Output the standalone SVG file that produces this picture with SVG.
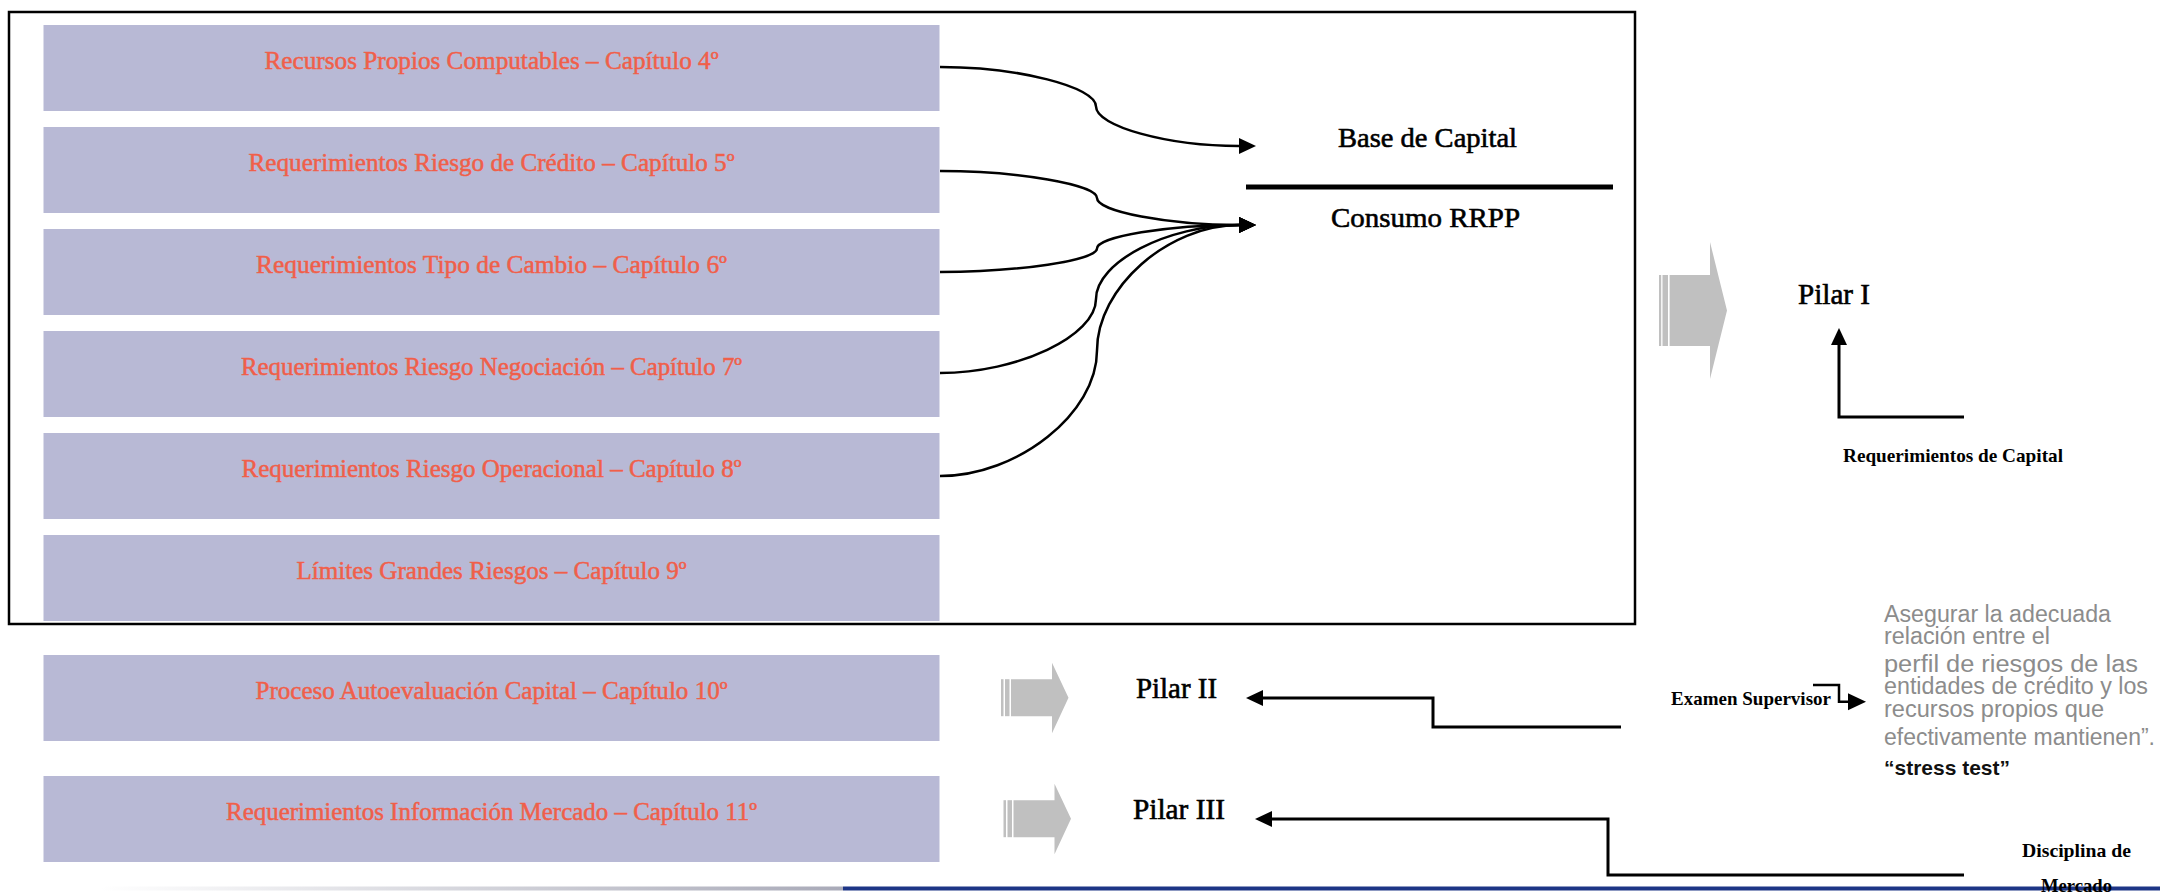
<svg xmlns="http://www.w3.org/2000/svg" width="2160" height="893" viewBox="0 0 2160 893">
<style>
.box{fill:#b8b9d5}
.bt{font-family:"Liberation Serif",serif;font-size:25px;fill:#f05f4a;stroke:#f05f4a;stroke-width:0.5;text-anchor:middle}
.lbl{font-family:"Liberation Serif",serif;fill:#000;stroke:#000;stroke-width:0.6}
.pil{font-family:"Liberation Serif",serif;font-size:29px;fill:#000;stroke:#000;stroke-width:0.6}
.bold{font-family:"Liberation Serif",serif;font-size:19px;font-weight:bold;fill:#000}
.gray{font-family:"Liberation Sans",Arial,sans-serif;font-size:23px;fill:#8c8c8c}
.conn{fill:none;stroke:#000;stroke-width:2.5}
.elb{fill:none;stroke:#000;stroke-width:3}
.blk{fill:#c0c0c0}
</style>
<defs>
<marker id="ah" markerUnits="userSpaceOnUse" markerWidth="18" markerHeight="18" refX="0" refY="8" orient="auto">
<path d="M0,0 L17,8 L0,16 z" fill="#000"/>
</marker>
<marker id="ahs" markerUnits="userSpaceOnUse" markerWidth="19" markerHeight="18" refX="0" refY="8.5" orient="auto">
<path d="M0,0 L18,8.5 L0,17 z" fill="#000"/>
</marker>
<linearGradient id="fade" x1="0" y1="0" x2="1" y2="0">
<stop offset="0" stop-color="#ffffff"/>
<stop offset="1" stop-color="#a9aab8"/>
</linearGradient>
<g id="grayArrowSmall">
<rect x="0" y="16.5" width="2.5" height="37" class="blk"/>
<rect x="4" y="16.5" width="4.5" height="37" class="blk"/>
<polygon points="10,16.5 51,16.5 51,0 67.5,35 51,70.5 51,53.5 10,53.5" class="blk"/>
</g>
</defs>

<rect x="0" y="0" width="2160" height="893" fill="#ffffff"/>

<g id="bottom-rule">
<rect x="100" y="886.5" width="743" height="4" fill="url(#fade)"/>
<rect x="843" y="886.5" width="1317" height="4" fill="#1d3586"/>
</g>

<rect id="frame" x="9" y="12" width="1626" height="612" fill="none" stroke="#000" stroke-width="2.5"/>

<g id="n-cap4"><rect class="box" x="43.5" y="25" width="896" height="86"/><text class="bt" x="491.5" y="69" textLength="454" lengthAdjust="spacingAndGlyphs">Recursos Propios Computables – Capítulo 4º</text></g>
<g id="n-cap5"><rect class="box" x="43.5" y="127" width="896" height="86"/><text class="bt" x="491.5" y="171" textLength="486" lengthAdjust="spacingAndGlyphs">Requerimientos Riesgo de Crédito – Capítulo 5º</text></g>
<g id="n-cap6"><rect class="box" x="43.5" y="229" width="896" height="86"/><text class="bt" x="491.5" y="273" textLength="471" lengthAdjust="spacingAndGlyphs">Requerimientos Tipo de Cambio – Capítulo 6º</text></g>
<g id="n-cap7"><rect class="box" x="43.5" y="331" width="896" height="86"/><text class="bt" x="491.5" y="375" textLength="501" lengthAdjust="spacingAndGlyphs">Requerimientos Riesgo Negociación – Capítulo 7º</text></g>
<g id="n-cap8"><rect class="box" x="43.5" y="433" width="896" height="86"/><text class="bt" x="491.5" y="477" textLength="500" lengthAdjust="spacingAndGlyphs">Requerimientos Riesgo Operacional – Capítulo 8º</text></g>
<g id="n-cap9"><rect class="box" x="43.5" y="535" width="896" height="86"/><text class="bt" x="491.5" y="579" textLength="390" lengthAdjust="spacingAndGlyphs">Límites Grandes Riesgos – Capítulo 9º</text></g>
<g id="n-cap10"><rect class="box" x="43.5" y="655" width="896" height="86"/><text class="bt" x="491.5" y="699" textLength="472" lengthAdjust="spacingAndGlyphs">Proceso Autoevaluación Capital – Capítulo 10º</text></g>
<g id="n-cap11"><rect class="box" x="43.5" y="776" width="896" height="86"/><text class="bt" x="491.5" y="820" textLength="531" lengthAdjust="spacingAndGlyphs">Requerimientos Información Mercado – Capítulo 11º</text></g>

<g id="n-base"><text class="lbl" x="1427.5" y="147" font-size="28" text-anchor="middle" textLength="179" lengthAdjust="spacingAndGlyphs">Base de Capital</text></g>
<g id="n-divider"><line x1="1246" y1="187" x2="1613" y2="187" stroke="#000" stroke-width="5"/></g>
<g id="n-consumo"><text class="lbl" x="1425.5" y="227" font-size="28" text-anchor="middle" textLength="189" lengthAdjust="spacingAndGlyphs">Consumo RRPP</text></g>

<g id="n-arrow1">
<rect x="1659" y="275" width="2.2" height="71" class="blk"/>
<rect x="1662.5" y="275" width="5.5" height="71" class="blk"/>
<polygon points="1669.6,275 1710,275 1710,242 1727,310.5 1710,379 1710,346 1669.6,346" class="blk"/>
</g>
<use id="n-arrow2" href="#grayArrowSmall" x="1001" y="662.7"/>
<use id="n-arrow3" href="#grayArrowSmall" x="1003.5" y="783.7"/>

<g id="n-pilar1"><text class="pil" x="1798" y="304" textLength="72" lengthAdjust="spacingAndGlyphs">Pilar I</text></g>
<g id="n-pilar2"><text class="pil" x="1136" y="698" textLength="81" lengthAdjust="spacingAndGlyphs">Pilar II</text></g>
<g id="n-pilar3"><text class="pil" x="1133" y="819" textLength="92" lengthAdjust="spacingAndGlyphs">Pilar III</text></g>

<g id="n-reqcap"><text class="bold" x="1843" y="462" textLength="220" lengthAdjust="spacingAndGlyphs">Requerimientos de Capital</text></g>
<g id="n-examen"><text class="bold" x="1671" y="705" textLength="160" lengthAdjust="spacingAndGlyphs">Examen Supervisor</text></g>

<g id="n-nota">
<text class="gray" x="1884" y="622" textLength="227" lengthAdjust="spacingAndGlyphs">Asegurar la adecuada</text>
<text class="gray" x="1884" y="644" textLength="166" lengthAdjust="spacingAndGlyphs">relación entre el</text>
<text class="gray" x="1884" y="672" textLength="254" lengthAdjust="spacingAndGlyphs">perfil de riesgos de las</text>
<text class="gray" x="1884" y="694" textLength="264" lengthAdjust="spacingAndGlyphs">entidades de crédito y los</text>
<text class="gray" x="1884" y="717" textLength="220" lengthAdjust="spacingAndGlyphs">recursos propios que</text>
<text class="gray" x="1884" y="745" textLength="271" lengthAdjust="spacingAndGlyphs">efectivamente mantienen”.</text>
<text x="1884" y="775" font-family="Liberation Sans,Arial,sans-serif" font-size="21" font-weight="bold" fill="#111" textLength="126" lengthAdjust="spacingAndGlyphs">“stress test”</text>
</g>

<g id="n-disciplina">
<text class="bold" x="2076.5" y="857" text-anchor="middle" textLength="109" lengthAdjust="spacingAndGlyphs">Disciplina de</text>
<text class="bold" x="2076.5" y="892" text-anchor="middle" textLength="71" lengthAdjust="spacingAndGlyphs">Mercado</text>
</g>

<g id="connectors">
<path class="conn" marker-end="url(#ah)" d="M940,67 C1018,67 1096,86.75 1096,106.5 C1096,126.25 1167.5,146 1239,146"/>
<path class="conn" marker-end="url(#ah)" d="M940,171 C1018,171 1097,184.5 1097,198 C1097,211.5 1168,225 1239,225"/>
<path class="conn" marker-end="url(#ah)" d="M940,272 C1018,272 1097,260.25 1097,248.5 C1097,236.75 1168,225 1239,225"/>
<path class="conn" marker-end="url(#ah)" d="M940,373 C1018,373 1096,336 1096,299 C1096,262 1167.5,225 1239,225"/>
<path class="conn" marker-end="url(#ah)" d="M940,476 C1018,476 1097,413.25 1097,350.5 C1097,287.75 1168,225 1239,225"/>
<path class="elb" marker-end="url(#ah)" d="M1964,417 L1839,417 L1839,345"/>
<path class="elb" marker-end="url(#ah)" d="M1621,727 L1433,727 L1433,698 L1263,698"/>
<path class="elb" marker-end="url(#ah)" d="M1964,875 L1608,875 L1608,819 L1272,819"/>
<path class="conn" marker-end="url(#ahs)" d="M1813,685 L1839,685 L1839,701.7 L1848,701.7"/>
</g>
</svg>
